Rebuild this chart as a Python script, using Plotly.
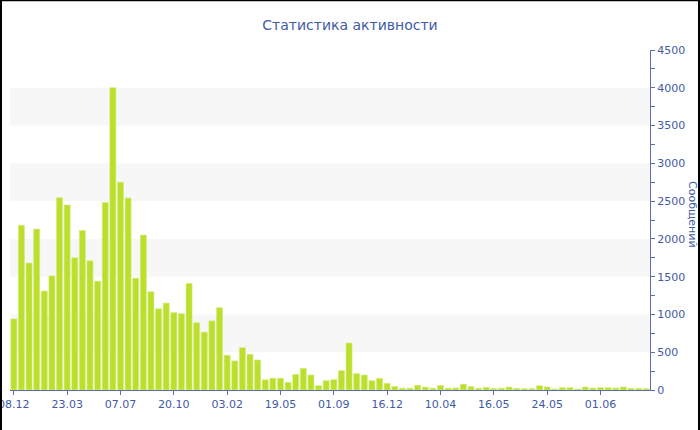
import plotly.graph_objects as go

# Data
values = [940, 2180, 1680, 2130, 1310, 1510, 2545, 2450, 1750, 2110,
          1710, 1440, 2480, 4000, 2750, 2540, 1480, 2050, 1300, 1075,
          1150, 1025, 1010, 1410, 890, 765, 915, 1090, 460, 385,
          560, 472, 397, 135, 155, 155, 100, 207, 287, 198,
          57, 123, 137, 256, 622, 216, 198, 123, 154, 88,
          46, 24, 24, 62, 38, 24, 60, 24, 26, 77,
          44, 22, 35, 20, 24, 40, 22, 18, 18, 57,
          40, 13, 31, 31, 13, 40, 26, 31, 31, 26,
          40, 22, 22, 18]
positions = list(range(len(values)))
tick_positions = [0, 7, 14, 21, 28, 35, 42, 49, 56, 63, 70, 77]
tick_labels = ["08.12", "23.03", "07.07", "20.10", "03.02", "19.05",
               "01.09", "16.12", "10.04", "16.05", "24.05", "01.06"]
band_ranges = [(500, 1000), (1500, 2000), (2500, 3000), (3500, 4000)]

TEXT = "#3f5aa6"
AXIS = "#5a6fad"
FONT = "DejaVu Sans"

fig = go.Figure()
fig.add_trace(go.Bar(
    x=positions, y=values,
    marker=dict(color="#bcdf2e", line=dict(color="#d3ec78", width=0.6)),
    hoverinfo="y",
))

shapes = []
for lo, hi in band_ranges:
    shapes.append(dict(type="rect", xref="paper", yref="y", x0=0, x1=1,
                       y0=lo, y1=hi, fillcolor="#f7f7f7", line=dict(width=0),
                       layer="below"))
# outer frame (top, left, right) as seen in the reference
W, H = 700, 430
L, R, T, B = 10, 50, 50, 40
pw, ph = W - L - R, H - T - B
def px(x):
    return (x - L) / pw
def py(y):
    return (H - B - y) / ph
shapes.append(dict(type="line", xref="paper", yref="paper", x0=px(0), x1=px(700),
                   y0=py(0.5), y1=py(0.5), line=dict(color="black", width=1.5)))
shapes.append(dict(type="line", xref="paper", yref="paper", x0=px(1), x1=px(1),
                   y0=py(0), y1=py(430), line=dict(color="black", width=2)))
shapes.append(dict(type="line", xref="paper", yref="paper", x0=px(699), x1=px(699),
                   y0=py(0), y1=py(430), line=dict(color="black", width=2)))

fig.update_layout(
    width=W, height=H,
    margin=dict(l=L, r=R, t=T, b=B, autoexpand=False),
    paper_bgcolor="white", plot_bgcolor="white",
    font=dict(family=FONT, size=11, color=TEXT),
    title=dict(text="Статистика активности", x=0.5, xanchor="center",
               y=1 - 25 / H, yanchor="middle",
               font=dict(family=FONT, size=14, color=TEXT)),
    bargap=0.21,
    showlegend=False,
    shapes=shapes,
    annotations=[dict(text="Сообщений", xref="paper", yref="paper",
                      x=px(692), y=py(214), showarrow=False, textangle=90,
                      font=dict(family=FONT, size=11, color=TEXT),
                      xanchor="center", yanchor="middle")],
)
fig.update_xaxes(
    range=[-0.5, len(values) - 0.5],
    tickmode="array", tickvals=tick_positions, ticktext=tick_labels,
    showgrid=False, zeroline=False,
    showline=True, linecolor=AXIS, linewidth=1,
    ticks="outside", ticklen=4, tickcolor=AXIS,
    ticklabeloverflow="allow",
    tickfont=dict(family=FONT, size=11, color=TEXT),
)
fig.update_yaxes(
    side="right", range=[0, 4500], dtick=500,
    showgrid=False, zeroline=False,
    showline=True, linecolor=AXIS, linewidth=1,
    ticks="outside", ticklen=4, tickcolor=AXIS,
    ticklabeloverflow="allow",
    minor=dict(dtick=250, ticks="outside", ticklen=4, tickcolor=AXIS, showgrid=False),
    tickfont=dict(family=FONT, size=11, color=TEXT),
)

fig.write_html("out.html", config={"displayModeBar": False},
               post_script="document.body.style.margin='0';")
